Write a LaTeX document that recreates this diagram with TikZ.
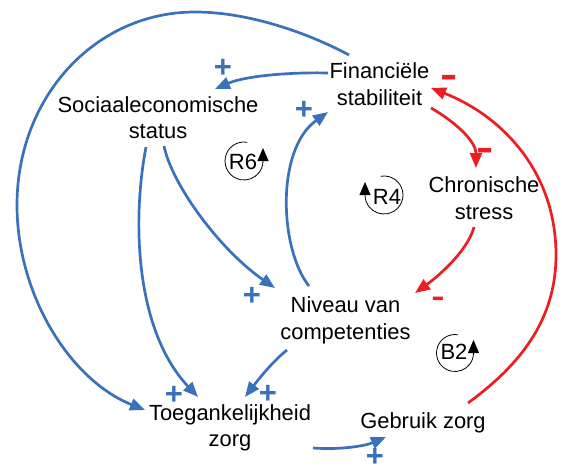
\documentclass[tikz,border=0pt]{standalone}
\usepackage{fontspec}
\usepackage{graphicx}
\setmainfont{Liberation Sans}
\usetikzlibrary{arrows.meta,calc}
\definecolor{linkblue}{RGB}{57,114,186}
\definecolor{linkred}{RGB}{236,30,36}
\begin{document}
\begin{tikzpicture}[x=1pt,y=-1pt,
  var/.style={inner sep=0pt,align=center,font=\fontsize{21.9}{26.5}\selectfont},
  poslink/.style={draw=linkblue,line width=2.7pt,-{Triangle[length=15pt,width=12pt]}},
  neglink/.style={draw=linkred,line width=2.7pt,-{Triangle[length=15pt,width=12pt]}},
  plussign/.style={text=linkblue,inner sep=0pt,font=\fontsize{31}{31}\selectfont\bfseries},
  minussign/.style={text=linkred,inner sep=0pt,font=\fontsize{26}{26}\selectfont\bfseries},
  looparc/.style={draw=black,line width=0.8pt,-{Triangle[length=13pt,width=11pt]}},
  looplabel/.style={inner sep=0pt,font=\fontsize{22}{22}\selectfont}]
\useasboundingbox (0,0) rectangle (562,468);

% variables
\node[var] (fin) at (379.5,86.7) {Financiële\strut\\stabiliteit\strut};
\node[var] (se)  at (158,120.2)  {Sociaaleconomische\strut\\status\strut};
\node[var] (chr) at (484,200.7)  {Chronische\strut\\stress\strut};
\node[var] (niv) at (345.5,320.7) {Niveau van\strut\\competenties\strut};
\node[var] (toe) at (230,428.2)  {Toegankelijkheid\strut\\zorg\strut};
\node[var] (geb) at (423,422.7)  {Gebruik zorg\strut};

% positive links
\draw[poslink] ($(fin)+(-51.5,-13.7)$) .. controls (290,72) and (245,76) .. ($(se)+(57,-31.2)$);
\draw[poslink] ($(fin)+(-30.5,-31.7)$) .. controls (310,34) and (250,12) .. (195,12)
  .. controls (95,12) and (17,97) .. (17,205)
  .. controls (17,295) and (70,380) .. ($(toe)+(-85,-18.2)$);
\draw[poslink] ($(se)+(-12,26.8)$) .. controls (132,220) and (135,330) .. ($(toe)+(-32,-31.2)$);
\draw[poslink] ($(se)+(6,25.8)$) .. controls (172,185) and (220,250) .. ($(niv)+(-70.5,-32.7)$);
\draw[poslink] ($(niv)+(-36.5,-34.7)$) .. controls (280,250) and (275,150) .. ($(fin)+(-51.5,25.3)$);
\draw[poslink] ($(niv)+(-58.5,29.3)$) .. controls (272,362) and (258,380) .. ($(toe)+(15,-31.2)$);
\draw[poslink] ($(toe)+(83,19.8)$) .. controls (340,450) and (365,446) .. ($(geb)+(-37,14.3)$);

% negative links
\draw[neglink] ($(fin)+(51.5,21.3)$) .. controls (452,120) and (476,140) .. ($(chr)+(-8,-32.7)$);
\draw[neglink] ($(chr)+(-10,26.3)$) .. controls (468,250) and (440,275) .. ($(niv)+(69.5,-27.7)$);
\draw[neglink] ($(geb)+(45,-19.7)$) .. controls (520,365) and (556,320) .. (556,255)
  .. controls (556,170) and (500,115) .. ($(fin)+(51.5,1.3)$);

% polarity signs
\node[plussign] (p1) at (223,68) {+};
\node[plussign] (p2) at (304,110) {+};
\node[plussign] (p3) at (252,296) {+};
\node[plussign] (p4) at (174,395) {+};
\node[plussign] (p5) at (268,394) {+};
\node[plussign] (p6) at (375,457) {+};
\node[minussign] (m1) at (449,83) {\scalebox{1}[1.6]{−}};
\node[minussign] (m2) at (485,156) {\scalebox{1}[1.6]{−}};
\node[minussign,font=\fontsize{20}{20}\selectfont\bfseries] (m3) at (438,303) {\scalebox{1}[1.6]{−}};

% loop markers
\coordinate (r6c) at (244,161);
\coordinate (r4c) at (384,195);
\coordinate (b2c) at (455,353);
\node[looplabel] (r6) at (243,162) {R6};
\node[looplabel] (r4) at (387,197) {R4};
\node[looplabel] (b2) at (454,352) {B2};
\draw[looparc] ($(r6c)+(-80:19)$) arc[start angle=-80,end angle=-360,radius=19] -- ++(0,-13);
\draw[looparc] ($(r4c)+(-100:19)$) arc[start angle=-100,end angle=180,radius=19] -- ++(0,-13);
\draw[looparc] ($(b2c)+(-80:18.5)$) arc[start angle=-80,end angle=-360,radius=18.5] -- ++(0,-13);
\end{tikzpicture}
\end{document}
